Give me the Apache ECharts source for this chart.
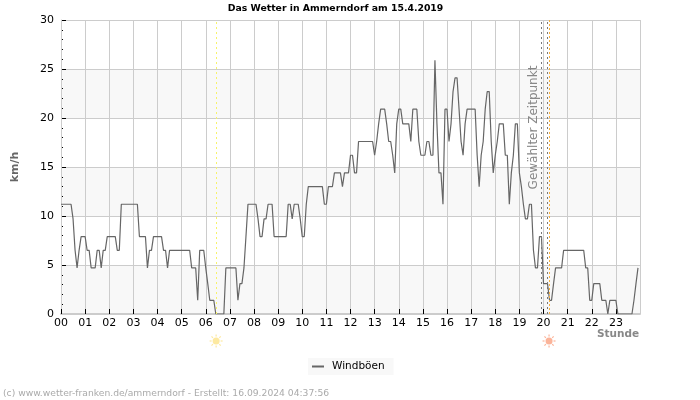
<!DOCTYPE html>
<html><head><meta charset="utf-8">
<style>html,body{margin:0;padding:0;background:#fff}#c{width:700px;height:400px}</style>
<script src="https://cdn.jsdelivr.net/npm/echarts@6/dist/echarts.min.js"></script>
</head><body><div id="c"></div>
<script>
const h00=[11.2,11.2,11.2,11.2,11.2,11.2,9.7,6.5,4.7,6.5,7.9,7.9];
const h01=[7.9,6.5,6.5,4.7,4.7,4.7,6.5,6.5,4.7,6.5,6.5,7.9];
const h02=[7.9,7.9,7.9,7.9,6.5,6.5,11.2,11.2,11.2,11.2,11.2,11.2];
const h03=[11.2,11.2,11.2,7.9,7.9,7.9,7.9,4.7,6.5,6.5,7.9,7.9];
const h04=[7.9,7.9,7.9,6.5,6.5,4.7,6.5,6.5,6.5,6.5,6.5,6.5];
const h05=[6.5,6.5,6.5,6.5,6.5,4.7,4.7,4.7,1.4,6.5,6.5,6.5];
const h06=[4.7,3.1,1.4,1.4,1.4,0,0,0,0,0,4.7,4.7];
const h07=[4.7,4.7,4.7,4.7,1.4,3.1,3.1,4.7,7.9,11.2,11.2,11.2];
const h08=[11.2,11.2,9.7,7.9,7.9,9.7,9.7,11.2,11.2,11.2,7.9,7.9];
const h09=[7.9,7.9,7.9,7.9,7.9,11.2,11.2,9.7,11.2,11.2,11.2,9.7];
const h10=[7.9,7.9,11.2,13,13,13,13,13,13,13,13,11.2];
const h11=[11.2,13,13,13,14.4,14.4,14.4,14.4,13,14.4,14.4,14.4];
const h12=[16.2,16.2,14.4,14.4,17.6,17.6,17.6,17.6,17.6,17.6,17.6,17.6];
const h13=[16.2,17.6,19.4,20.9,20.9,20.9,19.4,17.6,17.6,16.2,14.4,19.4];
const h14=[20.9,20.9,19.4,19.4,19.4,19.4,17.6,20.9,20.9,20.9,17.6,16.2];
const h15=[16.2,16.2,17.6,17.6,16.2,16.2,25.9,19.4,14.4,14.4,11.2,20.9];
const h16=[20.9,17.6,19.4,22.7,24.1,24.1,20.9,17.6,16.2,19.4,20.9,20.9];
const h17=[20.9,20.9,20.9,16.2,13,16.2,17.6,20.9,22.7,22.7,17.6,14.4];
const h18=[16.2,17.6,19.4,19.4,19.4,16.2,16.2,11.2,14.4,16.2,19.4,19.4];
const h19=[14.4,13,11.2,9.7,9.7,11.2,11.2,6.5,4.7,4.7,7.9,7.9];
const h20=[3.1,3.1,3.1,1.4,1.4,3.1,4.7,4.7,4.7,4.7,6.5,6.5];
const h21=[6.5,6.5,6.5,6.5,6.5,6.5,6.5,6.5,6.5,4.7,4.7,1.4];
const h22=[1.4,3.1,3.1,3.1,3.1,1.4,1.4,1.4,0,1.4,1.4,1.4];
const h23=[1.4,0,0,0,0,0,0,0,0,1.4,3.1,4.7];
const hours=[h00,h01,h02,h03,h04,h05,h06,h07,h08,h09,h10,h11,h12,h13,h14,h15,h16,h17,h18,h19,h20,h21,h22,h23];
const sunrise=6.43, sunset=20.23, selectedA=19.91, selectedB=20.15;
const points=[];
hours.forEach((vals,h)=>vals.forEach((v,i)=>points.push([h+i/12,v])));
const FONT='"DejaVu Sans"';
const chart=echarts.init(document.getElementById('c'),null,{renderer:'canvas'});
const vline=(x,color,type)=>({xAxis:x,lineStyle:{color,type,width:1},label:{show:false}});
chart.setOption({
  animation:false,
  textStyle:{fontFamily:FONT},
  title:{text:'Das Wetter in Ammerndorf am 15.4.2019',left:330.5,top:-1,textAlign:'center',
    textStyle:{fontFamily:FONT,fontSize:9.3,fontWeight:'bold',color:'#000'}},
  grid:{left:61,right:60,top:20,bottom:86,containLabel:false},
  legend:{data:['Windböen'],left:308,top:358,itemWidth:12,itemHeight:2,padding:[3,9,3,4],
    backgroundColor:'#f8f8f8',icon:'rect',
    textStyle:{fontFamily:FONT,fontSize:10.5,color:'#000',padding:[0,0,0,3]}},
  xAxis:{type:'value',min:0,max:24,interval:1,z:3,
    axisLine:{show:true,lineStyle:{color:'#ccc',width:2}},
    axisTick:{show:true,inside:true,length:5,lineStyle:{color:'#000',width:1}},
    axisLabel:{fontFamily:FONT,fontSize:11,color:'#000',margin:4,showMaxLabel:false,
      formatter:v=>String(v).padStart(2,'0')},
    splitLine:{show:true,lineStyle:{color:'#ccc',width:1}}},
  yAxis:{type:'value',min:0,max:30,interval:5,
    name:'km/h',nameLocation:'middle',nameGap:40,nameRotate:90,
    nameTextStyle:{fontFamily:FONT,fontSize:11,fontWeight:'bold',color:'#666'},
    axisLine:{show:true,lineStyle:{color:'#ccc',width:1}},
    axisTick:{show:true,inside:true,length:5,lineStyle:{color:'#000',width:1}},
    minorTick:{show:true,splitNumber:5,length:2,lineStyle:{color:'#000',width:1}},
    axisLabel:{fontFamily:FONT,fontSize:11,color:'#000',margin:7},
    splitLine:{show:true,lineStyle:{color:'#ccc',width:1}},
    splitArea:{show:true,areaStyle:{color:['#f8f8f8','#ffffff']}}},
  series:[{name:'Windböen',type:'line',data:points,showSymbol:false,
    lineStyle:{color:'#666',width:1.2},itemStyle:{color:'#666'},
    markLine:{silent:true,symbol:'none',animation:false,
      data:[
        vline(sunrise,'#f7f36a',[2,3]),
        vline(selectedA,'#777',[2,3]),
        vline(selectedB,'#777',[2,3]),
        vline(sunset,'#f5b041',[2,2])
      ]}}]
});
function sun(x,color){
  const cx=chart.convertToPixel({xAxisIndex:0},x), cy=341, rays=[];
  for(let a=0;a<8;a++){const t=a*Math.PI/4;
    rays.push({type:'line',shape:{x1:cx+4.5*Math.cos(t),y1:cy+4.5*Math.sin(t),x2:cx+6.5*Math.cos(t),y2:cy+6.5*Math.sin(t)},style:{stroke:color,lineWidth:1.2}});}
  rays.push({type:'circle',shape:{cx,cy,r:3.5},style:{fill:color}});
  return rays;
}
const xSel=chart.convertToPixel({xAxisIndex:0},selectedA);
chart.setOption({graphic:[
  {type:'text',left:3,top:389,style:{text:'(c) www.wetter-franken.de/ammerndorf - Erstellt: 16.09.2024 04:37:56',fill:'#aaa',font:'9.2px '+FONT}},
  {type:'text',left:597,top:329,style:{text:'Stunde',fill:'#888',font:'bold 10.5px '+FONT}},
  {type:'text',x:xSel-7.5,y:127.5,rotation:Math.PI/2,style:{text:'Gewählter Zeitpunkt',fill:'#888',font:'12px '+FONT,align:'center',verticalAlign:'middle'}},
  ...sun(sunrise,'#fde9a0'),...sun(sunset,'#fbb49a')
]});
</script></body></html>
